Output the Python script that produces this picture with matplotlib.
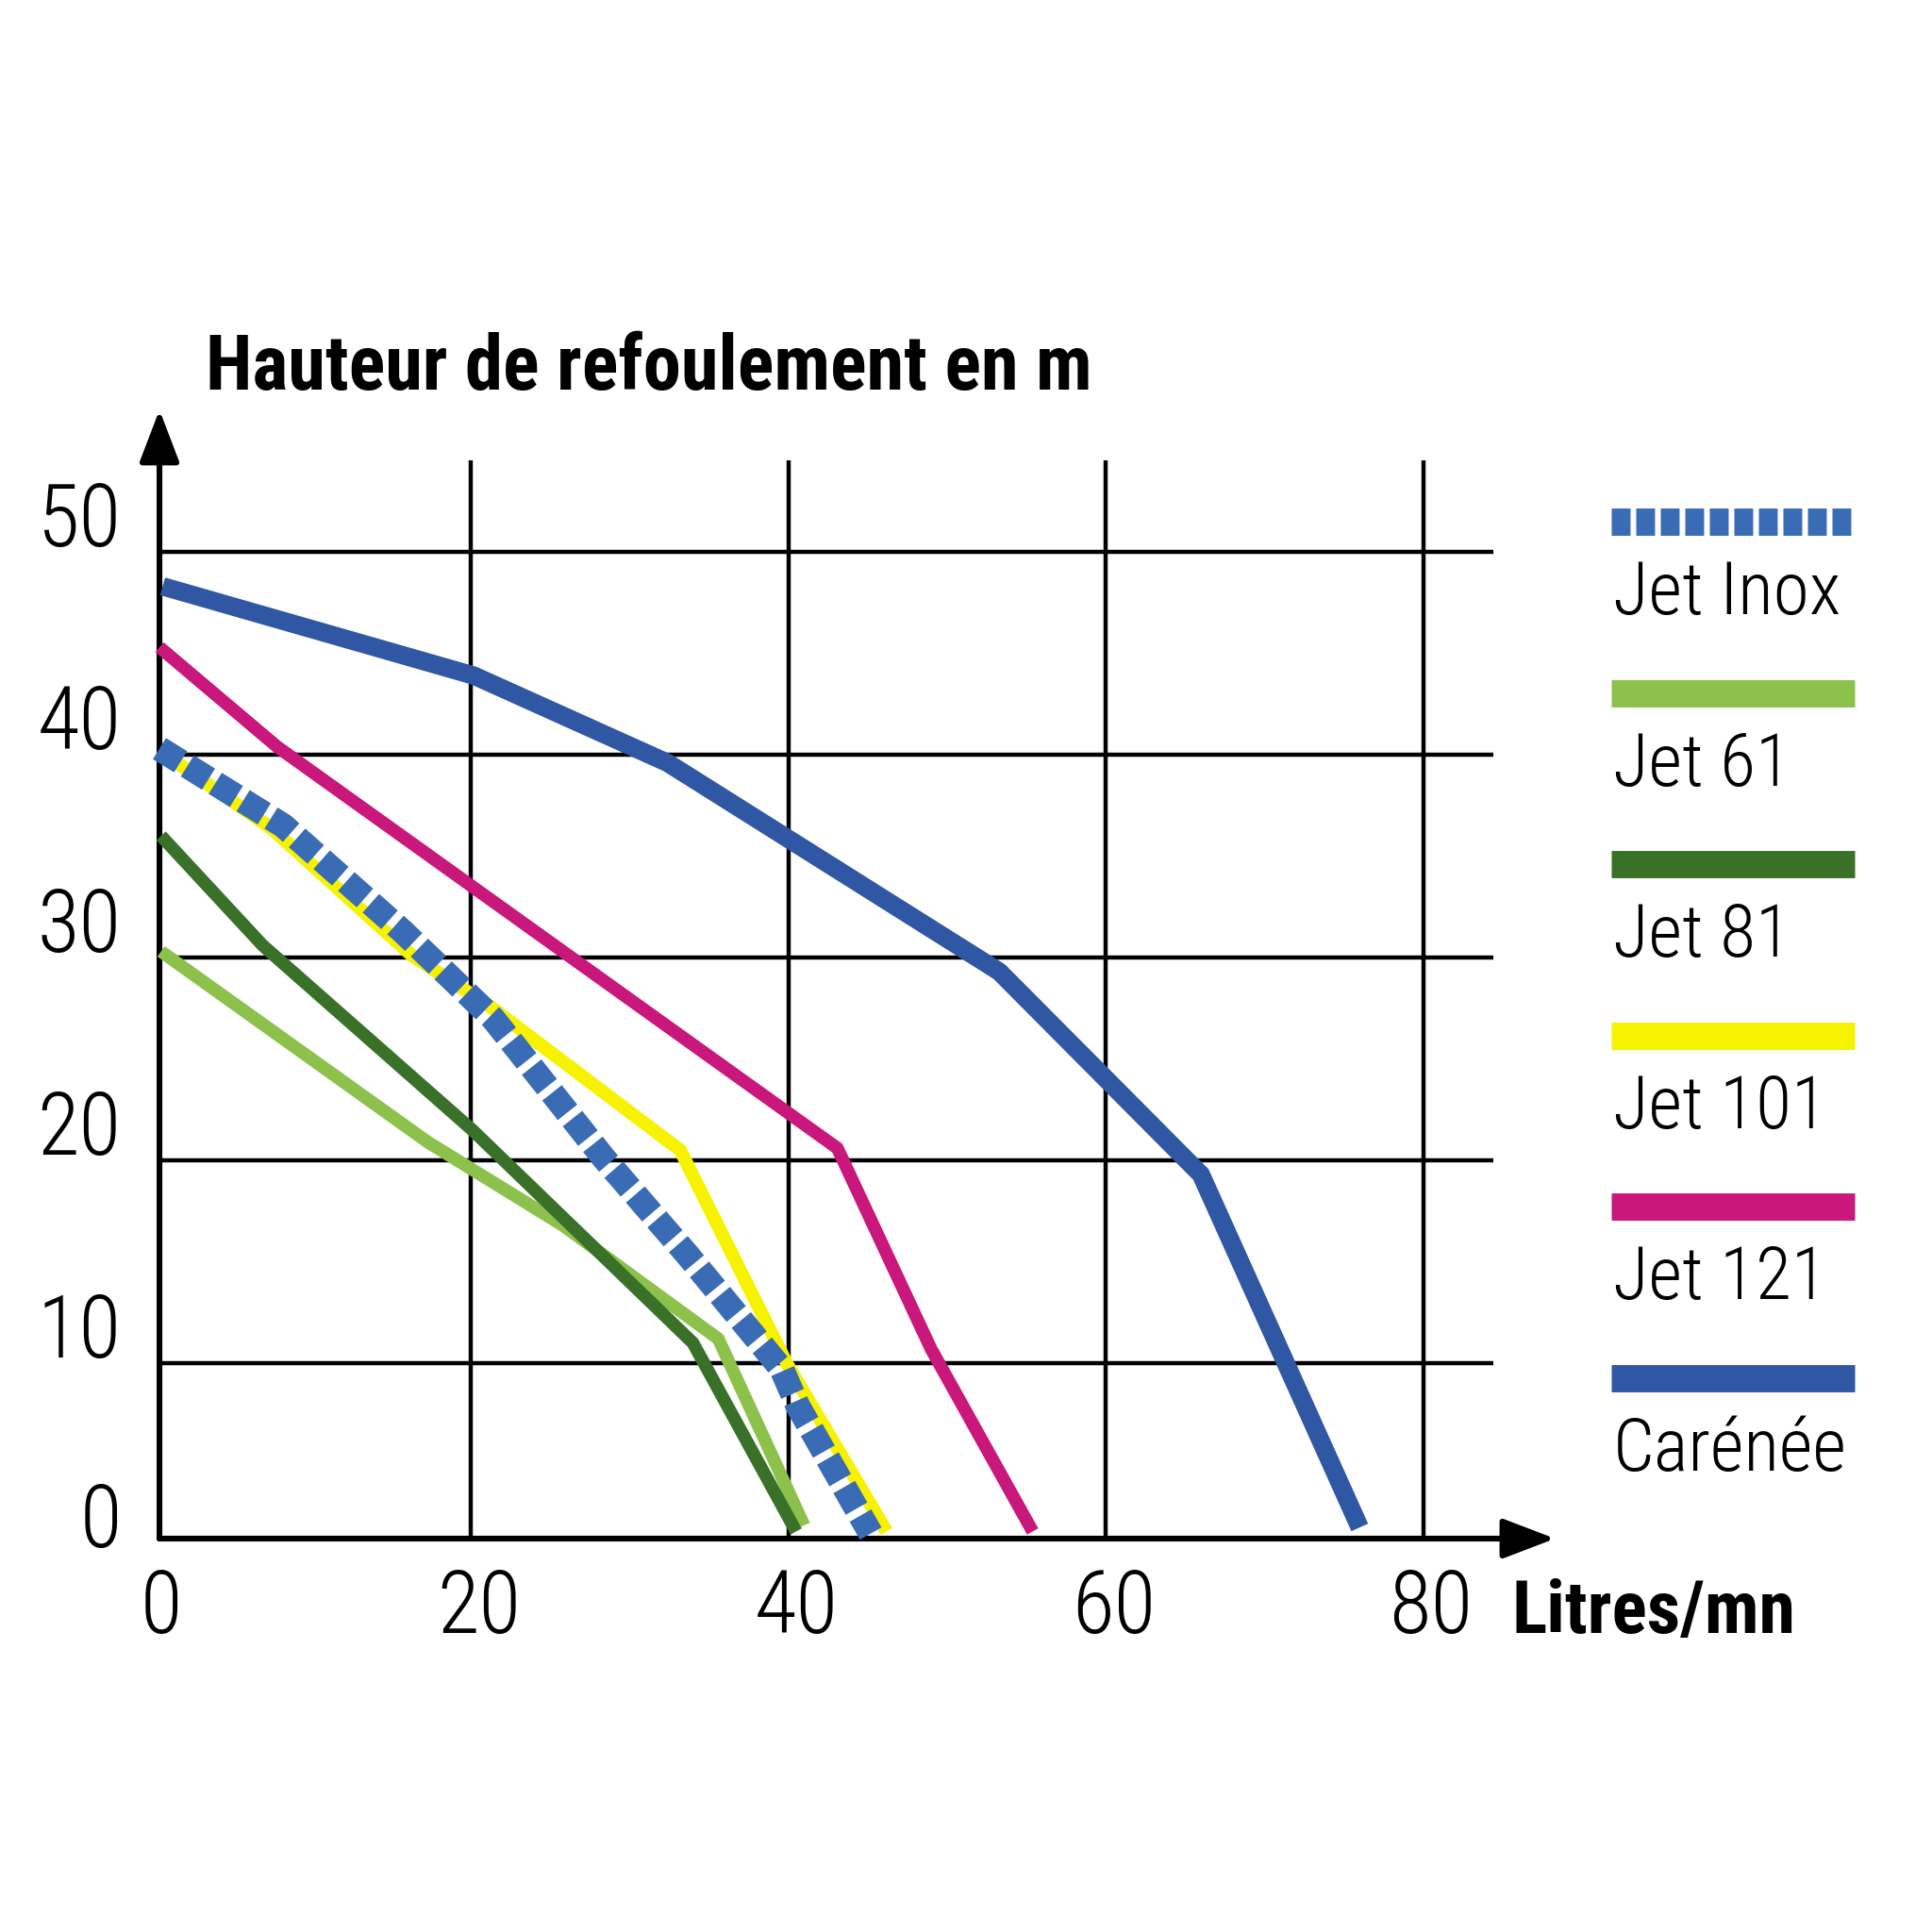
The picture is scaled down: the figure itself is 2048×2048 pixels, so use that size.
import matplotlib
matplotlib.use("Agg")
import matplotlib.pyplot as plt
import matplotlib.transforms as mtransforms
import matplotlib.font_manager as fm

# Data (flow in L/min, head in m)
flow_inox = [0.4, 8.2, 15.7, 21.4, 28.4, 33.7, 39.6, 40.6, 45.2]
head_inox = [40.3, 36.5, 31.3, 27.0, 20.1, 15.3, 9.7, 7.9, 1.6]

flow_61 = [0.5, 17.3, 25.8, 35.6, 41.0]
head_61 = [30.3, 20.9, 16.8, 11.2, 2.0]

flow_81 = [0.5, 6.9, 20.1, 34.0, 40.5]
head_81 = [36.0, 30.6, 21.5, 11.0, 1.7]

flow_101 = [0.4, 7.4, 16.3, 21.2, 33.2, 39.9, 46.2]
head_101 = [40.2, 36.4, 30.1, 27.6, 20.5, 10.0, 1.7]

flow_121 = [0.4, 7.8, 43.1, 49.0, 55.4]
head_121 = [45.3, 40.4, 20.6, 10.7, 1.7]

flow_car = [0.6, 20.2, 32.4, 53.3, 66.0, 76.0]
head_car = [48.3, 43.9, 39.6, 29.3, 19.3, 1.9]

x_ticks = [0, 20, 40, 60, 80]
y_ticks = [0, 10, 20, 30, 40, 50]
legend_labels = ["Jet Inox", "Jet 61", "Jet 81", "Jet 101", "Jet 121", "Carénée"]

C_INOX = "#3a6bb5"
C_61 = "#8cc14c"
C_81 = "#3a7129"
C_101 = "#f6f200"
C_121 = "#c9177b"
C_CAR = "#2f57a3"
legend_colors = [C_INOX, C_61, C_81, C_101, C_121, C_CAR]

available = {f.name for f in fm.fontManager.ttflist}


def pick(cands):
    for c in cands:
        if c in available:
            return c
    return "DejaVu Sans"


NARROW = pick(["Liberation Sans Narrow", "Roboto Condensed", "Open Sans Condensed", "DejaVu Sans"])

# figure is 2048 px; axes fill the figure, limits set so the grid lands where it does in the reference
SIZE = 2048
X0, XS = 162.3, 16.83     # px of x=0, px per L/min
Y0, YS = 1660.0, 21.5     # px of y=0, px per metre
X_SPINE = 0.4
Y_SPINE = 1.35
X_GRID_END = 84.4
Y_GRID_END = 54.5

fig = plt.figure(figsize=(10.24, 10.24), dpi=200)
ax = fig.add_axes([0, 0, 1, 1])
ax.set_xlim(-X0 / XS, (SIZE - X0) / XS)
ax.set_ylim((Y0 - SIZE) / YS, Y0 / YS)
ax.axis("off")

# image-pixel transform (origin top-left) for the legend block
px = mtransforms.Affine2D().scale(1 / SIZE, -1 / SIZE).translate(0, 1) + fig.transFigure

# grid
ax.hlines(y_ticks[1:], X_SPINE, X_GRID_END, color="black", lw=1.6, zorder=1)
ax.vlines(x_ticks[1:], Y_SPINE, Y_GRID_END, color="black", lw=1.6, zorder=1)

# axes with arrows
arrow = dict(arrowstyle="-|>,head_length=17,head_width=6.5", lw=2.2, color="black",
             shrinkA=0, shrinkB=0, mutation_scale=1)
ax.annotate("", xy=(X_SPINE, 57.0), xytext=(X_SPINE, Y_SPINE), arrowprops=arrow)
ax.annotate("", xy=(88.3, Y_SPINE), xytext=(X_SPINE, Y_SPINE), arrowprops=arrow)

# curves
ax.plot(flow_car, head_car, color=C_CAR, lw=7.0, solid_capstyle="butt", zorder=3)
ax.plot(flow_121, head_121, color=C_121, lw=4.9, solid_capstyle="butt", zorder=3)
ax.plot(flow_61, head_61, color=C_61, lw=4.9, solid_capstyle="butt", zorder=3)
ax.plot(flow_81, head_81, color=C_81, lw=4.9, solid_capstyle="butt", zorder=3)
ax.plot(flow_101, head_101, color=C_101, lw=5.1, solid_capstyle="butt", zorder=3)
inox, = ax.plot(flow_inox, head_inox, color=C_INOX, lw=9.5, dash_capstyle="butt", zorder=4)
inox.set_dashes([1.0, 0.32])

# tick labels (thin condensed face in the reference)
for v in y_ticks:
    yb = v + 0.3 if v > 0 else Y_SPINE - 0.4
    ax.text(-2.0, yb, str(v), ha="right", va="baseline", fontsize=33,
            family=NARROW, fontweight="light", color="black")
for v in x_ticks:
    ax.text(v + 0.5, -0.05, str(v), ha="center", va="top", fontsize=33,
            family=NARROW, fontweight="light", color="black")

ax.text(3.3, 58.0, "Hauteur de refoulement en m", ha="left", va="baseline",
        fontsize=29, family=NARROW, fontweight="bold", color="black")
ax.text(85.6, -3.3, "Litres/mn", ha="left", va="baseline",
        fontsize=28, family=NARROW, fontweight="bold", color="black")

# legend: colour bar with label underneath
for i, (lab, col) in enumerate(zip(legend_labels, legend_colors)):
    yc = 553 + i * 181.6
    bar, = ax.plot([1708, 1966], [yc, yc], color=col, lw=10.4, transform=px,
                   solid_capstyle="butt", dash_capstyle="butt", clip_on=False)
    if i == 0:
        bar.set_dashes([0.69, 0.21])
    ax.text(1710, yc + 98, lab, transform=px, ha="left", va="baseline",
            fontsize=28, family=NARROW, fontweight="light", color="black")

fig.savefig("out.png", dpi=200, facecolor="white")
